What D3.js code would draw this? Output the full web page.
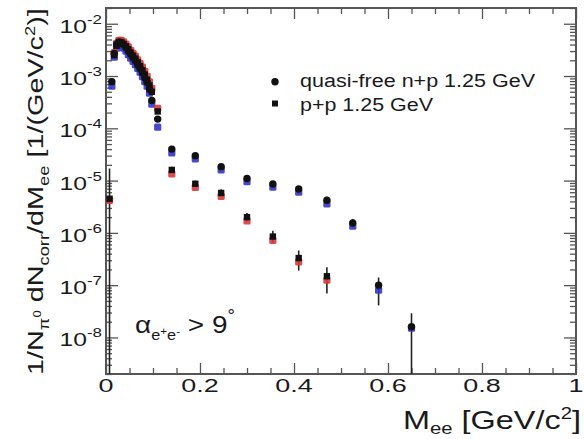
<!DOCTYPE html>
<html>
<head>
<meta charset="utf-8">
<script src="https://cdn.jsdelivr.net/npm/d3@7"></script>
<style>
  html, body { margin: 0; padding: 0; background: #fff; }
  svg { display: block; }
  text { font-family: "Liberation Sans", Arial, Helvetica, sans-serif; fill: #1a1a1a; }
</style>
</head>
<body>
<svg id="chart" width="584" height="439"></svg>
<script>
// ---- data: dielectron invariant-mass spectra normalised to pi0 yield ----
// quasi-free n+p at 1.25 GeV
const npMass  = [0.0125, 0.0175, 0.0225, 0.0275, 0.0325, 0.0375, 0.0425, 0.0475, 0.0525, 0.0575,
                 0.0625, 0.0675, 0.0725, 0.0775, 0.0825, 0.0875, 0.0925, 0.0975, 0.11,
                 0.14, 0.19, 0.245, 0.30, 0.355, 0.41, 0.47, 0.525, 0.58, 0.65];
const npYield = [7.8e-4, 2.7e-3, 4.0e-3, 4.5e-3, 4.4e-3, 4.0e-3, 3.5e-3, 3.0e-3, 2.6e-3, 2.25e-3,
                 1.95e-3, 1.65e-3, 1.4e-3, 1.15e-3, 9.3e-4, 7.6e-4, 5.6e-4, 3.4e-4, 1.5e-4,
                 4.0e-5, 3.0e-5, 1.85e-5, 1.1e-5, 8.6e-6, 6.9e-6, 4.2e-6, 1.55e-6, 1.0e-7, 1.6e-8];
// systematic (blue) markers for n+p
const npSysYield = [6.4e-4, 2.3e-3, 3.4e-3, 3.9e-3, 3.8e-3, 3.4e-3, 3.0e-3, 2.55e-3, 2.2e-3, 1.9e-3,
                    1.65e-3, 1.4e-3, 1.18e-3, 9.7e-4, 7.8e-4, 6.4e-4, 4.7e-4, 2.9e-4, 1.05e-4,
                    3.4e-5, 2.6e-5, 1.6e-5, 9.5e-6, 7.5e-6, 6.0e-6, 3.6e-6, 1.35e-6, 8.0e-8, 1.5e-8];
// statistical error bars for n+p
const npErrMass = [0.14, 0.19, 0.245, 0.30, 0.355, 0.41, 0.47, 0.525, 0.58, 0.65];
const npErrLow  = [3.6e-5, 2.7e-5, 1.65e-5, 9.8e-6, 7.6e-6, 6.0e-6, 3.6e-6, 1.3e-6, 4.1e-8, 1e-10];
const npErrHigh = [4.4e-5, 3.3e-5, 2.05e-5, 1.23e-5, 9.7e-6, 7.9e-6, 4.9e-6, 1.85e-6, 1.4e-7, 2.9e-8];

// p+p at 1.25 GeV
const ppMass  = [0.0075, 0.0175, 0.0225, 0.0275, 0.0325, 0.0375, 0.0425, 0.0475, 0.0525, 0.0575,
                 0.0625, 0.0675, 0.0725, 0.0775, 0.0825, 0.0875, 0.0925, 0.0975, 0.11,
                 0.14, 0.19, 0.245, 0.30, 0.355, 0.41, 0.47];
const ppYield = [4.5e-6, 2.5e-3, 3.8e-3, 4.4e-3, 4.4e-3, 4.1e-3, 3.7e-3, 3.25e-3, 2.8e-3, 2.45e-3,
                 2.15e-3, 1.82e-3, 1.55e-3, 1.29e-3, 1.07e-3, 8.5e-4, 6.6e-4, 5.0e-4, 2.1e-4,
                 1.6e-5, 8.7e-6, 5.8e-6, 2.0e-6, 8.5e-7, 3.3e-7, 1.48e-7];
// systematic (red) markers for p+p
const ppSysYield = [4.2e-6, 2.8e-3, 4.2e-3, 4.8e-3, 4.8e-3, 4.5e-3, 4.1e-3, 3.6e-3, 3.1e-3, 2.7e-3,
                    2.4e-3, 2.05e-3, 1.75e-3, 1.48e-3, 1.23e-3, 9.9e-4, 7.7e-4, 5.8e-4, 2.4e-4,
                    1.35e-5, 7.4e-6, 5.0e-6, 1.7e-6, 7.2e-7, 2.8e-7, 1.25e-7];
// statistical error bars for p+p
const ppErrMass = [0.0075, 0.14, 0.19, 0.245, 0.30, 0.355, 0.41, 0.47];
const ppErrLow  = [1e-10, 1.4e-5, 7.5e-6, 4.9e-6, 1.65e-6, 6.5e-7, 1.9e-7, 6.9e-8];
const ppErrHigh = [1.7e-5, 1.85e-5, 1.0e-5, 6.8e-6, 2.4e-6, 1.1e-6, 4.6e-7, 2.2e-7];

// axis ticks and labels
const xMajorTicks = [0, 0.2, 0.4, 0.6, 0.8, 1];
const xTickLabels = ["0", "0.2", "0.4", "0.6", "0.8", "1"];
const yExponents  = [-2, -3, -4, -5, -6, -7, -8];

const legendLabels = ["quasi-free n+p 1.25 GeV", "p+p 1.25 GeV"];

// ---- layout ----
const svg = d3.select("#chart");
const frame = { left: 106, right: 576, top: 8, bottom: 374 };
const x = d3.scaleLinear([0, 1], [frame.left, frame.right]);
const y = d3.scaleLog([2e-9, 2e-2], [frame.bottom, frame.top]);
const axisColor = "#555";
const npColor = "#3434c4";
const ppColor = "#d83a3a";

svg.append("defs").append("clipPath").attr("id", "plotClip")
  .append("rect")
  .attr("x", frame.left).attr("y", frame.top)
  .attr("width", frame.right - frame.left).attr("height", frame.bottom - frame.top);

// ticks on all four sides, pointing inwards
const xMinor = d3.range(0, 1.0001, 0.05).filter(v => Math.abs(v * 5 - Math.round(v * 5)) > 1e-6);
const yAll = y.ticks();
const yMajor = yExponents.map(e => Math.pow(10, e));
const yMinor = yAll.filter(v => !yMajor.some(m => Math.abs(v / m - 1) < 1e-6));

function styleAxis(g) {
  g.select(".domain").remove();
  g.selectAll("line").attr("stroke", axisColor).attr("stroke-width", 1.3);
}
const axes = svg.append("g");
axes.append("g").attr("transform", `translate(0,${frame.bottom})`)
  .call(d3.axisBottom(x).tickValues(xMajorTicks).tickSize(-11).tickFormat("")).call(styleAxis);
axes.append("g").attr("transform", `translate(0,${frame.bottom})`)
  .call(d3.axisBottom(x).tickValues(xMinor).tickSize(-6).tickFormat("")).call(styleAxis);
axes.append("g").attr("transform", `translate(0,${frame.top})`)
  .call(d3.axisTop(x).tickValues(xMajorTicks).tickSize(-11).tickFormat("")).call(styleAxis);
axes.append("g").attr("transform", `translate(0,${frame.top})`)
  .call(d3.axisTop(x).tickValues(xMinor).tickSize(-6).tickFormat("")).call(styleAxis);
axes.append("g").attr("transform", `translate(${frame.left},0)`)
  .call(d3.axisLeft(y).tickValues(yMajor).tickSize(-12).tickFormat("")).call(styleAxis);
axes.append("g").attr("transform", `translate(${frame.left},0)`)
  .call(d3.axisLeft(y).tickValues(yMinor).tickSize(-6).tickFormat("")).call(styleAxis);
axes.append("g").attr("transform", `translate(${frame.right},0)`)
  .call(d3.axisRight(y).tickValues(yMajor).tickSize(-12).tickFormat("")).call(styleAxis);
axes.append("g").attr("transform", `translate(${frame.right},0)`)
  .call(d3.axisRight(y).tickValues(yMinor).tickSize(-6).tickFormat("")).call(styleAxis);

svg.append("rect")
  .attr("x", frame.left).attr("y", frame.top)
  .attr("width", frame.right - frame.left).attr("height", frame.bottom - frame.top)
  .attr("fill", "none").attr("stroke", axisColor).attr("stroke-width", 2);

// ---- data marks ----
const plot = svg.append("g").attr("clip-path", "url(#plotClip)");

function errorBars(mass, lo, hi) {
  plot.append("g").selectAll("line")
    .data(mass.map((m, i) => ({ m, lo: lo[i], hi: hi[i] })))
    .join("line")
    .attr("x1", d => x(d.m)).attr("x2", d => x(d.m))
    .attr("y1", d => y(d.lo)).attr("y2", d => y(d.hi))
    .attr("stroke", "#222").attr("stroke-width", 1.6);
}
errorBars(npErrMass, npErrLow, npErrHigh);
errorBars(ppErrMass, ppErrLow, ppErrHigh);

function sysMarks(mass, vals, color) {
  plot.append("g").selectAll("rect")
    .data(mass.map((m, i) => ({ m, v: vals[i] })))
    .join("rect")
    .attr("x", d => x(d.m) - 3.6).attr("y", d => y(d.v) - 3.6)
    .attr("width", 7.2).attr("height", 7.2).attr("rx", 1.5)
    .attr("fill", color).attr("fill-opacity", 0.9);
}
sysMarks(npMass, npSysYield, npColor);
sysMarks(ppMass, ppSysYield, ppColor);

plot.append("g").selectAll("rect")
  .data(ppMass.map((m, i) => ({ m, v: ppYield[i] })))
  .join("rect")
  .attr("x", d => x(d.m) - 3.2).attr("y", d => y(d.v) - 3.2)
  .attr("width", 6.4).attr("height", 6.4)
  .attr("fill", "#111");

plot.append("g").selectAll("circle")
  .data(npMass.map((m, i) => ({ m, v: npYield[i] })))
  .join("circle")
  .attr("cx", d => x(d.m)).attr("cy", d => y(d.v)).attr("r", 3.7)
  .attr("fill", "#111");

// ---- text ----
function stretch(sel, tx, ty, sx, extra) {
  sel.attr("transform", `translate(${tx},${ty})${extra || ""} scale(${sx},1)`);
}
function fitWidth(sel, tx, ty, target, extra) {
  const w = sel.node().getBBox().width;
  stretch(sel, tx, ty, target / w, extra);
}

// x tick labels
xMajorTicks.forEach((v, i) => {
  const t = svg.append("text").attr("text-anchor", "middle")
    .attr("font-size", 18.6).text(xTickLabels[i]);
  stretch(t, x(v), 391.5, 1.45);
});

// y tick labels: 10^n
yExponents.forEach(e => {
  const t = svg.append("text").attr("text-anchor", "end").attr("font-size", 19);
  t.append("tspan").text("10");
  t.append("tspan").attr("font-size", 13).attr("dy", -9).text(String(e));
  stretch(t, 102, y(Math.pow(10, e)) + 9, 1.3);
});

// x axis title
{
  const t = svg.append("text").attr("text-anchor", "end").attr("font-size", 25.6);
  t.append("tspan").text("M");
  t.append("tspan").attr("font-size", 16).attr("dy", 5).text("ee");
  t.append("tspan").attr("dy", -5).text(" [GeV/c");
  t.append("tspan").attr("font-size", 16).attr("dy", -10).text("2");
  t.append("tspan").attr("dy", 10).text("]");
  fitWidth(t, 581, 429, 178);
}

// y axis title
{
  const t = svg.append("text").attr("text-anchor", "start").attr("font-size", 22);
  t.append("tspan").text("1/N");
  t.append("tspan").attr("font-size", 14).attr("dy", 6).text("\u03c0");
  t.append("tspan").attr("font-size", 10).attr("dy", -8).text("0");
  t.append("tspan").attr("dy", 2).text(" dN");
  t.append("tspan").attr("font-size", 14).attr("dy", 6).text("corr");
  t.append("tspan").attr("dy", -6).text("/dM");
  t.append("tspan").attr("font-size", 14).attr("dy", 6).text("ee");
  t.append("tspan").attr("dy", -6).text(" [1/(GeV/c");
  t.append("tspan").attr("font-size", 14).attr("dy", -8).text("2");
  t.append("tspan").attr("dy", 8).text(")]");
  fitWidth(t, 43, 375, 367, " rotate(-90)");
}

// legend
const legend = svg.append("g");
legend.append("circle").attr("cx", 275).attr("cy", 81.7).attr("r", 3.7).attr("fill", "#111");
legend.append("rect").attr("x", 272).attr("y", 100.5).attr("width", 6).attr("height", 6).attr("fill", "#111");
legend.append("text").attr("x", 300).attr("y", 86.5).attr("font-size", 18)
  .attr("textLength", 235).attr("lengthAdjust", "spacingAndGlyphs").text(legendLabels[0]);
legend.append("text").attr("x", 300).attr("y", 110.5).attr("font-size", 18)
  .attr("textLength", 133).attr("lengthAdjust", "spacingAndGlyphs").text(legendLabels[1]);

// opening-angle cut annotation
{
  const t = svg.append("text").attr("text-anchor", "start").attr("font-size", 24);
  t.append("tspan").text("\u03b1");
  t.append("tspan").attr("font-size", 14).attr("dy", 7).text("e");
  t.append("tspan").attr("font-size", 10).attr("dy", -5).text("+");
  t.append("tspan").attr("font-size", 14).attr("dy", 5).text("e");
  t.append("tspan").attr("font-size", 10).attr("dy", -5).text("-");
  t.append("tspan").attr("dy", -2).text(" > 9");
  t.append("tspan").attr("font-size", 16).attr("dy", -12).text("\u00b0");
  fitWidth(t, 135, 333, 100);
}
</script>
</body>
</html>
